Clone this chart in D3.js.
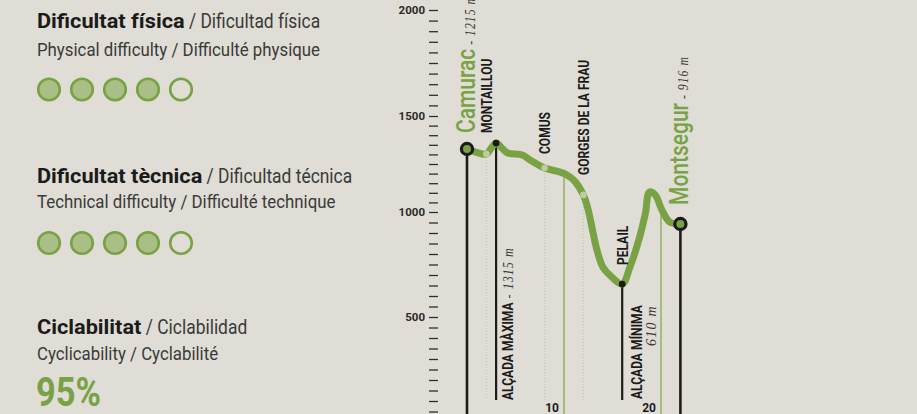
<!DOCTYPE html>
<html>
<head>
<meta charset="utf-8">
<script src="https://cdn.jsdelivr.net/npm/d3@7"></script>
<style>
  html, body { margin: 0; padding: 0; background: #dfddd6; }
  svg { display: block; }
</style>
</head>
<body>
<svg id="chart"></svg>
<script>
"use strict";

// ---- data ----
// elevation profile: km from Camurac, metres (as read against the axis)
const distKm = [0, 0.9, 2.0, 2.5, 3.0, 3.6, 4.2, 5.7, 6.5, 8.0, 9.6, 10.3, 11.1, 12.0, 12.5,
                13.0, 13.4, 14.0, 14.7, 16.0, 16.8, 17.8, 18.4, 18.8, 19.4, 20.1, 20.9, 22.0];
const elevM  = [1328, 1312, 1302, 1333, 1359, 1333, 1307, 1297, 1271, 1229, 1208, 1193, 1161, 1089, 1010,
                900, 819, 738, 700, 657, 738, 881, 995, 1104, 1089, 1010, 952, 943];

const endNames   = ["Camurac", "Montsegur"];
const endKm      = [0, 22.0];
const endAlt     = ["1215 m", "916 m"];

const poiNames   = ["MONTAILLOU", "COMUS", "GORGES DE LA FRAU", "PELAIL"];
const poiKm      = [2.0, 8.0, 12.0, 16.0];
const dottedKm   = [2.0, 8.0, 12.0];

const extremeKm    = [3.0, 16.0];
const extremeNames = ["ALÇADA MÀXIMA", "ALÇADA MÍNIMA"];
const extremeAlt   = ["1315 m", "610 m"];

const distTicks  = [10, 20];
const altTicks   = d3.range(50, 2001, 50);
const altLabels  = [500, 1000, 1500, 2000];

// rating panel
const headBold   = ["Dificultat física", "Dificultat tècnica", "Ciclabilitat"];
const headRest   = [" / Dificultad física", " / Dificultad técnica", " / Ciclabilidad"];
const subLines   = ["Physical difficulty / Difficulté physique",
                    "Technical difficulty / Difficulté technique",
                    "Cyclicability / Cyclabilité"];
const ratingScore = [4, 4];
const ratingMax   = 5;
const cyclability = "95%";

// ---- setup ----
const W = 917, H = 414;
const green = "#78a243", greenPale = "#a9bf86", greenLight = "#bccd9f", ink = "#1b1b19", grey = "#3a3a38";

const svg = d3.select("#chart")
  .attr("width", W).attr("height", H)
  .attr("viewBox", `0 0 ${W} ${H}`)
  .style("font-family", "Roboto, sans-serif");

svg.append("rect").attr("width", W).attr("height", H).attr("fill", "#dfddd6");

// ---- left panel ----
const headY = [28, 183, 334], subY = [56, 208, 360], dotsY = [89.5, 243];
const boldSq = 1.06, restSq = 0.85;

headBold.forEach((t, i) => {
  const bold = svg.append("g").attr("transform", `translate(37,${headY[i]}) scale(${boldSq},1)`)
    .append("text").attr("font-size", 20.5).attr("font-weight", 700).attr("fill", ink).text(t);
  const bw = bold.node().getComputedTextLength() * boldSq;
  svg.append("g").attr("transform", `translate(${37 + bw},${headY[i]}) scale(${restSq},1)`)
    .append("text").attr("font-size", 20.5).attr("fill", grey)
    .attr("xml:space", "preserve").style("white-space", "pre")
    .text(headRest[i]);
  svg.append("g").attr("transform", `translate(37,${subY[i]}) scale(0.885,1)`)
    .append("text").attr("font-size", 19).attr("fill", grey).text(subLines[i]);
});

ratingScore.forEach((score, i) => {
  svg.append("g").selectAll("circle")
    .data(d3.range(ratingMax))
    .join("circle")
      .attr("cx", (d) => 49 + d * 33)
      .attr("cy", dotsY[i])
      .attr("r", 10.8)
      .attr("fill", (d) => d < score ? greenPale : "none")
      .attr("stroke", green)
      .attr("stroke-width", 2.6);
});

svg.append("g").attr("transform", `translate(36,406) scale(0.84,1)`)
  .append("text")
    .attr("font-size", 41).attr("font-weight", 700).attr("fill", green)
    .text(cyclability);

// ---- profile chart ----
const x = d3.scaleLinear().domain([0, 22]).range([467, 680.4]);
const y = d3.scaleLinear().domain([500, 1000, 1500, 2000]).range([317, 212, 116, 10]);

const elevAt = (km) => {
  const i = d3.bisectLeft(distKm, km);
  if (i <= 0) return elevM[0];
  if (i >= distKm.length) return elevM[elevM.length - 1];
  const t = (km - distKm[i - 1]) / (distKm[i] - distKm[i - 1]);
  return elevM[i - 1] + t * (elevM[i] - elevM[i - 1]);
};

// altitude axis
const axis = svg.append("g")
  .attr("transform", "translate(438,0)")
  .call(d3.axisLeft(y)
    .tickValues(altTicks)
    .tickSize(9)
    .tickPadding(4)
    .tickFormat((d) => altLabels.includes(d) ? d : ""));
axis.select(".domain").remove();
axis.selectAll(".tick line").attr("stroke", "#2e2e2c").attr("stroke-width", 1.3);
axis.selectAll(".tick text")
  .attr("fill", "#2a2a28")
  .attr("font-family", "Roboto, sans-serif")
  .attr("font-size", 11.5)
  .attr("font-weight", 700);

// distance markers
svg.append("g").selectAll("line")
  .data(distTicks)
  .join("line")
    .attr("x1", (d) => x(d)).attr("x2", (d) => x(d))
    .attr("y1", (d) => y(elevAt(d))).attr("y2", H)
    .attr("stroke", "#90b161").attr("stroke-width", 1.5);

svg.append("g").selectAll("text")
  .data(distTicks)
  .join("text")
    .attr("x", (d) => x(d) - 5).attr("y", 412)
    .attr("text-anchor", "end")
    .attr("font-size", 12).attr("font-weight", 700).attr("fill", ink)
    .text((d) => d);

// dotted drop lines
svg.append("g").selectAll("line")
  .data(dottedKm)
  .join("line")
    .attr("x1", (d) => x(d)).attr("x2", (d) => x(d))
    .attr("y1", (d) => y(elevAt(d))).attr("y2", 400)
    .attr("stroke", greenLight).attr("stroke-width", 1.3)
    .attr("stroke-dasharray", "1,2");

// max / min drop lines
svg.append("g").selectAll("line")
  .data(extremeKm)
  .join("line")
    .attr("x1", (d) => x(d)).attr("x2", (d) => x(d))
    .attr("y1", (d) => y(elevAt(d))).attr("y2", 400)
    .attr("stroke", ink).attr("stroke-width", 2.2);

// start / end lines
svg.append("g").selectAll("line")
  .data(endKm)
  .join("line")
    .attr("x1", (d) => x(d)).attr("x2", (d) => x(d))
    .attr("y1", (d) => y(elevAt(d))).attr("y2", H + 5)
    .attr("stroke", ink).attr("stroke-width", 2.6);

// the profile itself
const line = d3.line()
  .x((d) => x(d[0]))
  .y((d) => y(d[1]))
  .curve(d3.curveCatmullRom.alpha(0.5));

svg.append("path")
  .datum(d3.zip(distKm, elevM))
  .attr("d", line)
  .attr("fill", "none")
  .attr("stroke", green)
  .attr("stroke-width", 7)
  .attr("stroke-linejoin", "round")
  .attr("stroke-linecap", "round");

svg.append("g").selectAll("circle")
  .data(dottedKm)
  .join("circle")
    .attr("cx", (d) => x(d)).attr("cy", (d) => y(elevAt(d)))
    .attr("r", 3.3).attr("fill", greenLight);

svg.append("g").selectAll("circle")
  .data(extremeKm)
  .join("circle")
    .attr("cx", (d) => x(d)).attr("cy", (d) => y(elevAt(d)))
    .attr("r", 3.4).attr("fill", ink);

svg.append("g").selectAll("circle")
  .data(endKm)
  .join("circle")
    .attr("cx", (d) => x(d)).attr("cy", (d) => y(elevAt(d)))
    .attr("r", 5.6).attr("fill", green)
    .attr("stroke", ink).attr("stroke-width", 3.2);

// vertical labels (read bottom to top)
const vtext = (px, py, sq) => svg.append("text")
  .attr("transform", `translate(${px},${py}) rotate(-90) scale(${sq},1)`);

const endGap = [16, 19];
endNames.forEach((name, i) => {
  const t = vtext(x(endKm[i]) + 7.5, y(elevAt(endKm[i])) - endGap[i], 0.84);
  t.append("tspan")
    .attr("font-size", 25).attr("font-weight", 500).attr("fill", green)
    .text(name);
  t.append("tspan")
    .attr("font-family", "'Liberation Serif', serif").attr("font-style", "italic")
    .attr("font-size", 14).attr("letter-spacing", 1.2).attr("fill", grey)
    .text(" - " + endAlt[i]);
});

const poiGap = [21, 14, 20, 19];
poiNames.forEach((name, i) => {
  vtext(x(poiKm[i]) + 5.5, y(elevAt(poiKm[i])) - poiGap[i], 0.86)
    .attr("font-size", 14).attr("font-weight", 700).attr("fill", ink)
    .text(name);
});

// max altitude label
{
  const t = vtext(x(extremeKm[0]) + 17, 400, 0.86);
  t.append("tspan").attr("font-size", 14).attr("font-weight", 700).attr("fill", ink)
    .text(extremeNames[0]);
  t.append("tspan")
    .attr("font-family", "'Liberation Serif', serif").attr("font-style", "italic")
    .attr("font-size", 14).attr("letter-spacing", 1.2).attr("fill", grey)
    .text(" - " + extremeAlt[0]);
}

// min altitude label, value on a second line
{
  const t = vtext(x(extremeKm[1]) + 19.5, 399, 0.86);
  t.attr("font-size", 14).attr("font-weight", 700).attr("fill", ink).text(extremeNames[1]);
  const len = t.node().getComputedTextLength() * 0.86;
  vtext(x(extremeKm[1]) + 33.5, 399 - len, 1)
    .attr("text-anchor", "end")
    .attr("font-family", "'Liberation Serif', serif").attr("font-style", "italic")
    .attr("font-size", 14).attr("letter-spacing", 1.2).attr("fill", grey)
    .text(extremeAlt[1]);
}
</script>
</body>
</html>
